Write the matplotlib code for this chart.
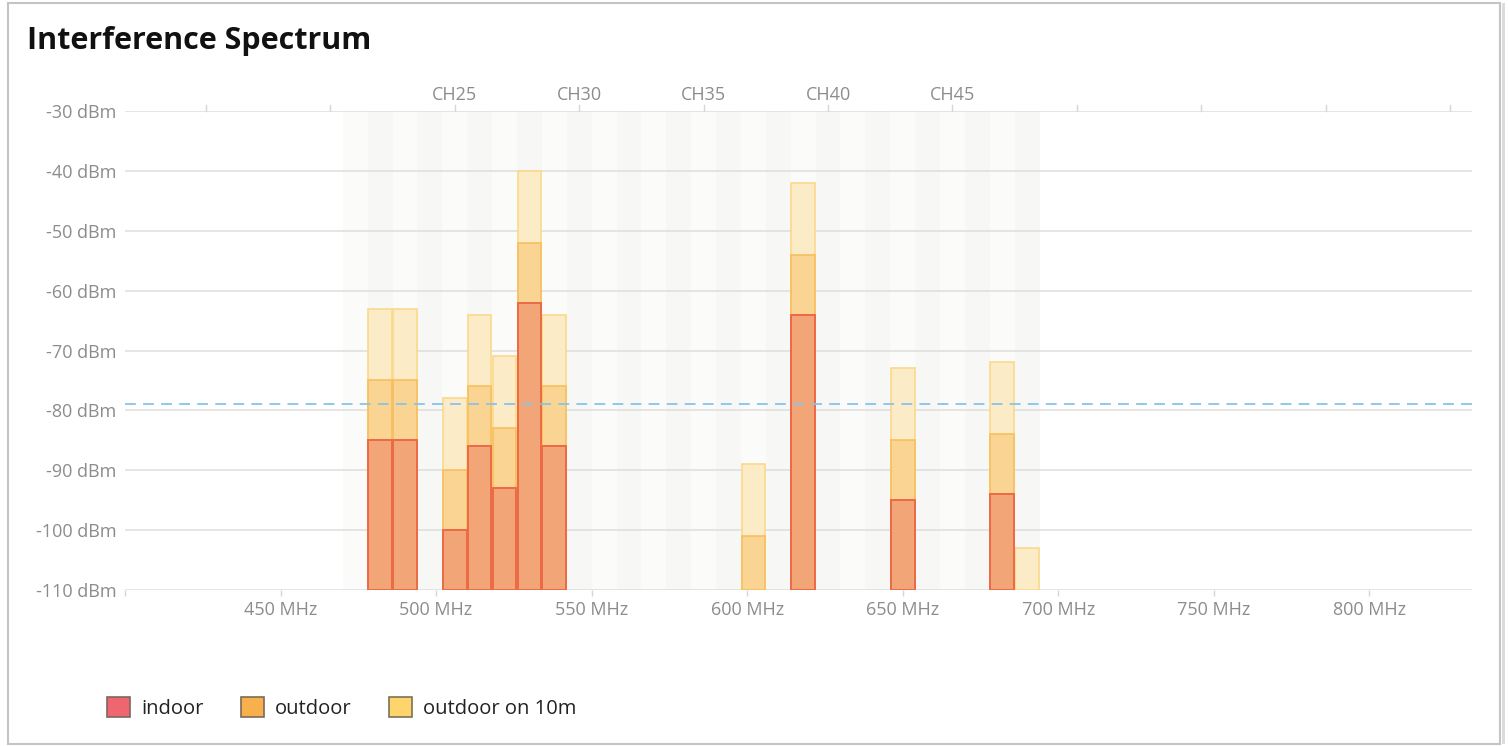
import numpy as np
import matplotlib
matplotlib.use("Agg")
import matplotlib.pyplot as plt
from matplotlib.patches import Patch, Rectangle

plt.rcParams['font.family'] = ['Open Sans', 'DejaVu Sans']

# channels with a reading (European UHF, 8 MHz wide, CH21 starts at 470 MHz)
channels = [22, 23, 25, 26, 27, 28, 29, 37, 39, 43, 47, 48]
indoor = [-85, -85, -100, -86, -93, -62, -86, np.nan, -64, -95, -94, np.nan]
outdoor = [-75, -75, -90, -76, -83, -52, -76, -101, -54, -85, -84, np.nan]
outdoor_10m = [-63, -63, -78, -64, -71, -40, -64, -89, -42, -73, -72, -103]
threshold = -79

y_ticks = [-30, -40, -50, -60, -70, -80, -90, -100, -110]
x_ticks = [400, 450, 500, 550, 600, 650, 700, 750, 800]
labelled_channels = [25, 30, 35, 40, 45]
top_tick_channels = [15, 20, 25, 30, 35, 40, 45, 50, 55, 60, 65]
band_first, band_last = 21, 48

def ch_start(ch):
  return 470 + (ch - 21) * 8

def ch_center(ch):
  return ch_start(ch) + 4

fig = plt.figure(figsize=(15.09, 7.46), dpi=100)
ax = fig.add_axes([125/1509, 1 - 590/746, 1347/1509, 479/746])

# channel bands
for ch in range(band_first, band_last + 1):
  col = '#fbfbfa' if ch % 2 == 1 else '#f7f7f5'
  ax.axvspan(ch_start(ch), ch_start(ch) + 8, ymin=0, ymax=1, color=col, lw=0, zorder=0)

for y in y_ticks:
  ax.axhline(y, color='#dedede', lw=1.1, zorder=1)

xc = [ch_center(c) for c in channels]
w = 7.6
ax.bar(xc, np.array(outdoor_10m) + 110, bottom=-110, width=w, color='#fcebc7',
       edgecolor='#fbd98a', lw=1.2, zorder=2)
ax.bar(xc, np.array(outdoor) + 110, bottom=-110, width=w, color='#f9d492',
       edgecolor='#f7bf5e', lw=1.2, zorder=3)
ax.bar(xc, np.array(indoor) + 110, bottom=-110, width=w, color='#f2a577',
       edgecolor='#ec6a45', lw=1.4, zorder=4)

ax.axhline(threshold, color='#86c3ee', lw=1.3, ls=(0, (6, 4)), zorder=5)

ax.set_xlim(400, 833)
ax.set_ylim(-110, -30)
for s in ax.spines.values():
  s.set_visible(False)

ax.set_yticks(y_ticks)
ax.set_yticklabels([f"{v} dBm" for v in y_ticks])
ax.set_xticks(x_ticks)
ax.set_xticklabels(["" if v == 400 else f"{v} MHz" for v in x_ticks])
ax.tick_params(axis='y', length=0, pad=6, labelsize=13, labelcolor='#8c8c8c')
ax.tick_params(axis='x', length=4, width=1, color='#d6d6d6', pad=4,
               labelsize=13, labelcolor='#8c8c8c')

# top channel ticks and labels
for ch in top_tick_channels:
  x = ch_center(ch)
  if x < 833:
    ax.plot([x, x], [-30, -29], color='#d6d6d6', lw=1, clip_on=False, zorder=1)
for ch in labelled_channels:
  ax.text(ch_center(ch), -28.9, f"CH{ch}", ha='center', va='bottom',
          fontsize=13, color='#8c8c8c')

fig.text(27/1509, 1 - 49/746, "Interference Spectrum", fontsize=22,
         fontweight='bold', color='#111111')

handles = [Patch(facecolor='#ee6670', edgecolor='#7d6660', lw=1.2, label='indoor'),
           Patch(facecolor='#f8b04c', edgecolor='#7d6a58', lw=1.2, label='outdoor'),
           Patch(facecolor='#fed56c', edgecolor='#7d7258', lw=1.2, label='outdoor on 10m')]
fig.legend(handles=handles, loc='center left', bbox_to_anchor=(89/1509, 1 - 708/746),
           ncol=3, frameon=False, fontsize=14.5, handlelength=1.15, handleheight=1.15,
           handletextpad=0.55, columnspacing=1.85, labelcolor='#222222')

fig.patches.append(Rectangle((8/1509, 2/746), 1492/1509, 741/746, transform=fig.transFigure,
                             fill=False, edgecolor='#c4c4c4', lw=1.5))
fig.patches.append(Rectangle((1502/1509, 2/746), 3/1509, 741/746, transform=fig.transFigure,
                             facecolor='#dcdcdc', edgecolor='none'))

fig.savefig("out.png", dpi=100)
